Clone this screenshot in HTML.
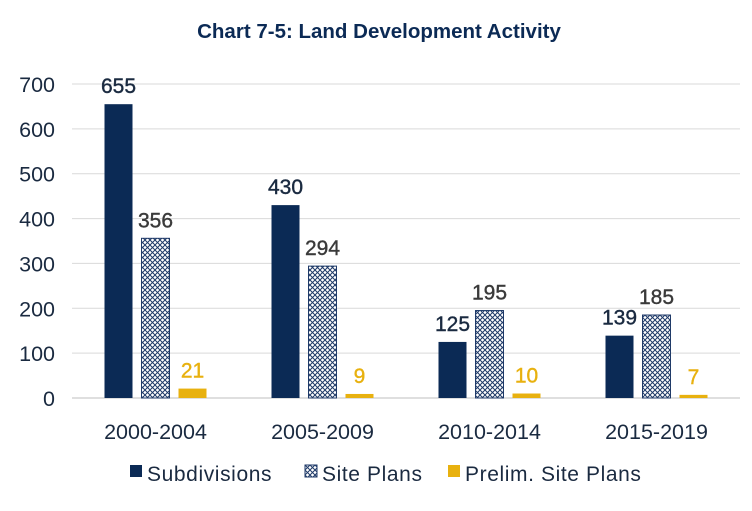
<!DOCTYPE html>
<html><head><meta charset="utf-8"><style>
body{margin:0;background:#fff;font-family:"Liberation Sans",sans-serif}
</style></head><body>
<svg id="chart" width="752" height="506" viewBox="0 0 752 506">
<defs>
<pattern id="hatch" width="5" height="5" patternUnits="userSpaceOnUse">
<rect width="5" height="5" fill="#fff"/>
<path d="M0,0 L5,5 M5,0 L0,5" stroke="#1f3a68" stroke-width="1"/>
</pattern>
</defs>
<text x="379" y="38" text-anchor="middle" font-size="20.5" font-weight="bold" fill="#0b2a55">Chart 7-5: Land Development Activity</text>
<g id="grid"></g><g id="bars"></g><g id="legend"></g>
</svg>
<script>
const categories=["2000-2004","2005-2009","2010-2014","2015-2019"];
const subdivisions=[655,430,125,139];
const sitePlans=[356,294,195,185];
const prelimSitePlans=[21,9,10,7];
const yTicks=[0,100,200,300,400,500,600,700];
const NS="http://www.w3.org/2000/svg";
const x0=72,x1=740,yBase=398,yTop=84,yMax=700;
const y=v=>yBase-(v/yMax)*(yBase-yTop);
const groupW=(x1-x0)/categories.length;
const gx=i=>x0+groupW*(i+0.5);
function mk(tag,attrs,parent){const e=document.createElementNS(NS,tag);for(const k in attrs)e.setAttribute(k,attrs[k]);parent.appendChild(e);return e;}
const grid=document.getElementById('grid'),bars=document.getElementById('bars'),legend=document.getElementById('legend');
yTicks.forEach(t=>{
 const l=mk('line',{x1:x0,x2:x1,y1:y(t),y2:y(t),stroke:t===0?'#bfbfbf':'#d9d9d9','stroke-width':1},grid);
 
 
 const tx=mk('text',{x:55,y:y(t)+8,'text-anchor':'end','font-size':21.5,fill:'#1a2a40'},grid);
 tx.textContent=t;
 
 
});
const series=[
 {vals:subdivisions,fill:'#0b2a55',stroke:'none',lab:'#1a2a40',name:'subdivisions'},
 {vals:sitePlans,fill:'url(#hatch)',stroke:'#1f3a68',lab:'#3a3a3a',name:'site-plans'},
 {vals:prelimSitePlans,fill:'#e8b10f',stroke:'none',lab:'#e8b10f',name:'prelim-site-plans'}];
const bw=28,gap=9;
categories.forEach((c,i)=>{
 series.forEach((s,j)=>{
  const bx=gx(i)+(j-1)*(bw+gap)-bw/2;
  const v=s.vals[i];
  const r=mk('rect',{x:bx,y:y(v),width:bw,height:yBase-y(v),fill:s.fill,stroke:s.stroke,'stroke-width':1},bars);
  
  
  const t=mk('text',{x:bx+bw/2,y:y(v)-11,'text-anchor':'middle','font-size':21,fill:s.lab,stroke:s.lab,'stroke-width':0.4},bars);
  t.textContent=v;
  
  
 });
 const ct=mk('text',{x:gx(i),y:439,'text-anchor':'middle','font-size':21.5,fill:'#1a2a40'},bars);
 ct.textContent=c;
 
 
});
const legItems=[{x:130,label:'Subdivisions',s:series[0]},{x:305,label:'Site Plans',s:series[1]},{x:448,label:'Prelim. Site Plans',s:series[2]}];
legItems.forEach(it=>{
 const r=mk('rect',{x:it.x,y:465,width:12,height:12,fill:it.s.fill,stroke:it.s.stroke},legend);
 
 
 const t=mk('text',{x:it.x+17,y:481,'font-size':21,'letter-spacing':0.6,fill:'#1a2a40'},legend);
 t.textContent=it.label;
 
 
});
</script>
</body></html>
